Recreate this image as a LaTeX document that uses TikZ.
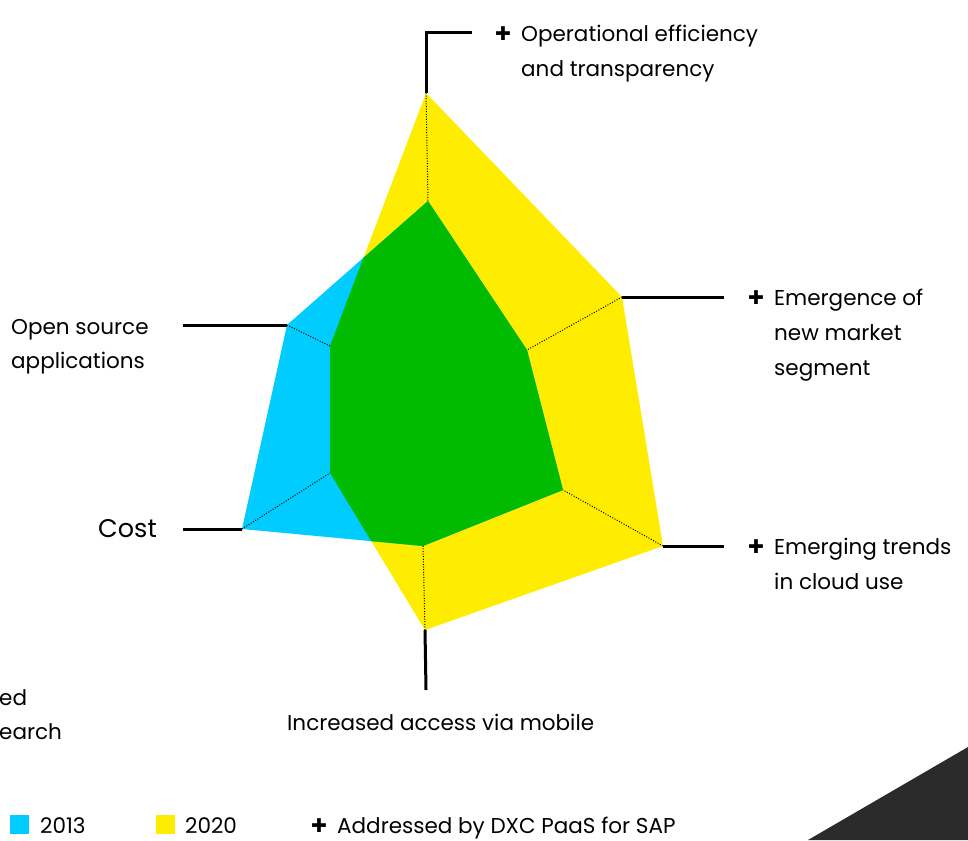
\documentclass[tikz,border=0pt]{standalone}
\usepackage{fontspec}
\setmainfont{Poppins}
\newfontfamily\symfont{DejaVu Sans}
\definecolor{yel}{HTML}{FFED00}
\definecolor{blu}{HTML}{00CCFF}
\definecolor{grn}{HTML}{00BB00}
\definecolor{darkgrey}{HTML}{2B2B2B}
\begin{document}
\begin{tikzpicture}[x=1pt,y=-1pt,
  lbl/.style={inner sep=0pt, anchor=base west, font=\fontsize{21.5}{26}\selectfont},
  bigl/.style={inner sep=0pt, anchor=base west, font=\fontsize{25.5}{30}\selectfont},
  plus/.style={inner sep=0pt, anchor=base west, font=\fontsize{19}{22}\symfont},
  axisline/.style={line width=3pt, black, line join=miter},
  dotline/.style={line width=1pt, black, dash pattern=on 1pt off 1.6pt},
  swatch/.style={inner sep=0pt, minimum size=19pt}]
\useasboundingbox (0,0) rectangle (968,840);
% vertices
\coordinate (Y1) at (426,93);
\coordinate (Y2) at (622,297);
\coordinate (Y3) at (663,546);
\coordinate (Y4) at (425,630);
\coordinate (Y5) at (330,473);
\coordinate (Y6) at (330,346);
\coordinate (B1) at (428,201);
\coordinate (B2) at (527,350);
\coordinate (B3) at (563,490);
\coordinate (B4) at (423,546);
\coordinate (B5) at (242,529);
\coordinate (B6) at (287,325);
% label line ends
\coordinate (T1) at (426,33);
\coordinate (T2) at (472,33);
\coordinate (R1) at (724,297);
\coordinate (R2) at (724,546);
\coordinate (D1) at (426,690);
\coordinate (L1) at (183,529);
\coordinate (L2) at (183,325);
% polygons
\fill[yel] (Y1)--(Y2)--(Y3)--(Y4)--(Y5)--(Y6)--cycle;
\fill[blu] (B1)--(B2)--(B3)--(B4)--(B5)--(B6)--cycle;
\begin{scope}
\clip (Y1)--(Y2)--(Y3)--(Y4)--(Y5)--(Y6)--cycle;
\fill[grn] (B1)--(B2)--(B3)--(B4)--(B5)--(B6)--cycle;
\end{scope}
% dotted spokes
\draw[dotline] (Y1)--(B1);
\draw[dotline] (Y2)--(B2);
\draw[dotline] (Y3)--(B3);
\draw[dotline] (Y4)--(B4);
\draw[dotline] (B5)--(Y5);
\draw[dotline] (B6)--(Y6);
% axis lines
\draw[axisline] (Y1)--(T1)--(T2);
\draw[axisline] (Y2)--(R1);
\draw[axisline] (Y3)--(R2);
\draw[axisline] (Y4)--(D1);
\draw[axisline] (B5)--(L1);
\draw[axisline] (B6)--(L2);
% labels
\node[plus] (p1) at (495,41) {✚};
\node[lbl] (op1) at (521,42) {Operational efficiency};
\node[lbl] (op2) at (521,77) {and transparency};
\node[plus] (p2) at (748,304) {✚};
\node[lbl] (em1) at (774,305) {Emergence of};
\node[lbl] (em2) at (774,340) {new market};
\node[lbl] (em3) at (774,375) {segment};
\node[plus] (p3) at (748,553) {✚};
\node[lbl] (et1) at (774,554) {Emerging trends};
\node[lbl] (et2) at (774,589) {in cloud use};
\node[lbl] (os1) at (11,334) {Open source};
\node[lbl] (os2) at (11,368) {applications};
\node[bigl] (cost) at (98,537) {Cost};
\node[lbl] (mob) at (287,730) {Increased access via mobile};
\node[lbl] (cut1) at (-1,705) {ed};
\node[lbl] (cut2) at (-1,739) {earch};
% legend
\node[swatch, fill=blu] (s13) at (19.5,824.5) {};
\node[lbl] (l13) at (40,833) {2013};
\node[swatch, fill=yel] (s20) at (165.5,824.5) {};
\node[lbl] (l20) at (185,833) {2020};
\node[plus] (p4) at (311,832) {✚};
\node[lbl] (ladd) at (337,833) {Addressed by DXC PaaS for SAP};
% corner triangle
\fill[darkgrey] (808,840)--(968,747)--(968,840)--cycle;
\end{tikzpicture}
\end{document}
